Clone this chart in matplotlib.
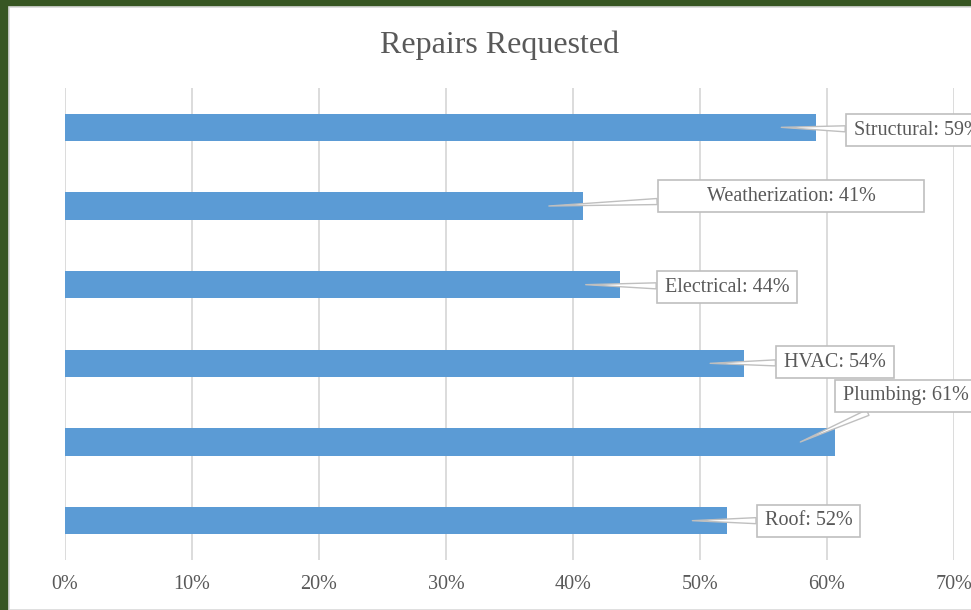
import numpy as np
import matplotlib
matplotlib.use("Agg")
import matplotlib.pyplot as plt
from matplotlib.patches import Rectangle
from matplotlib.path import Path

# Datos
categorias = ["Roof", "Plumbing", "HVAC", "Electrical", "Weatherization", "Structural"]
valores = [0.521, 0.606, 0.535, 0.437, 0.408, 0.591]
ticks_x = [0.0, 0.1, 0.2, 0.3, 0.4, 0.5, 0.6, 0.7]
tick_labels = ["0%", "10%", "20%", "30%", "40%", "50%", "60%", "70%"]

# Posicion de las etiquetas (centro de la caja, datos) y relleno horizontal (px)
label_pos = [(0.5854, 0.0), (0.662, 1.585), (0.6063, 2.011),
             (0.5213, 2.970), (0.5717, 4.127), (0.671, 4.96)]
label_padx = [8, 8, 8, 8, 49, 8]

azul = "#5B9BD5"
gris_txt = "#595959"
gris_grid = "#D9D9D9"
fuente = "Liberation Serif"


def caja(padx, pady):
    def _box(x0, y0, width, height, mutation_size):
        x0 = x0 - padx
        y0 = y0 - pady
        w = width + 2 * padx
        h = height + 2 * pady
        return Path([(x0, y0), (x0 + w, y0), (x0 + w, y0 + h), (x0, y0 + h), (x0, y0)],
                    closed=True)
    return _box


fig = plt.figure(figsize=(9.71, 6.10), dpi=100)
fig.patch.set_facecolor("#375623")
fig.patches.append(Rectangle((9 / 971, 0), 1, 1 - 7 / 610, transform=fig.transFigure,
                             facecolor="white", edgecolor=gris_grid, linewidth=1.2,
                             zorder=-10))

ax = fig.add_axes([65 / 971, 1 - 560 / 610, (954 - 65) / 971, (560 - 88) / 610])
ax.set_facecolor("none")
ax.set_zorder(5)

y = np.arange(len(categorias))
ax.barh(y, valores, height=0.345, color=azul, zorder=2)

ax.set_xlim(0, 0.7)
ax.set_ylim(-0.5, len(categorias) - 0.5)
ax.set_xticks(ticks_x)
ax.set_xticklabels(tick_labels, fontsize=14.5, color=gris_txt, family=fuente)
ax.set_yticks([])
ax.tick_params(axis="x", length=0, pad=11)
ax.grid(axis="x", color=gris_grid, linewidth=1.3, zorder=0)
for s in ax.spines.values():
    s.set_visible(False)

# Etiquetas tipo globo
for i, (cat, v) in enumerate(zip(categorias, valores)):
    tx, ty = label_pos[i]
    ax.annotate(f"{cat}: {round(v * 100):.0f}%", xy=(v - 0.027, i), xytext=(tx, ty),
                ha="center", va="center", fontsize=14.5, color=gris_txt, family=fuente,
                bbox=dict(boxstyle=caja(label_padx[i], 6.5), fc="white", ec="#BFBFBF", lw=1.2),
                arrowprops=dict(arrowstyle="wedge,tail_width=0.3,shrink_factor=0.5",
                                fc="white", ec="#BFBFBF", lw=1.0, shrinkA=0, shrinkB=0),
                annotation_clip=False, zorder=4)

fig.text(0.514, 1 - 45 / 610, "Repairs Requested", ha="center", va="center",
         fontsize=23, color=gris_txt, family=fuente)

plt.savefig("out.png", dpi=100)
plt.close()
